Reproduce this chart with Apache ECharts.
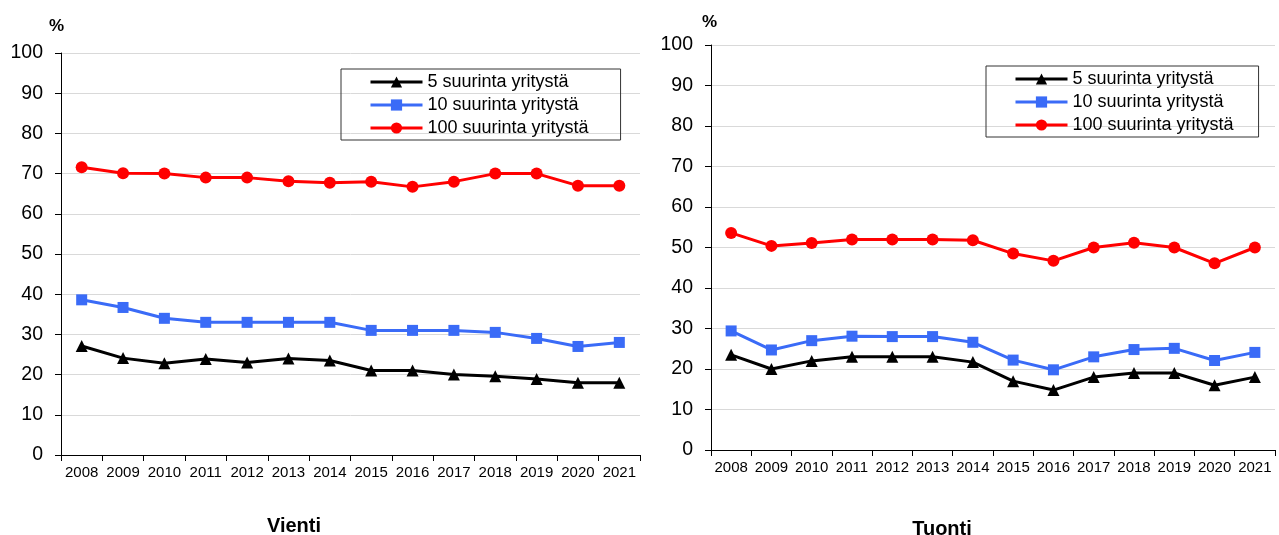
<!DOCTYPE html>
<html>
<head>
<meta charset="utf-8">
<script src="https://cdn.jsdelivr.net/npm/echarts@6/dist/echarts.min.js"></script>
<style>
  html, body { margin: 0; padding: 0; background: #fff; }
  #chart { width: 1279px; height: 535px; }
</style>
</head>
<body>
<div id="chart"></div>
<script>
// vuodet
var years = ['2008','2009','2010','2011','2012','2013','2014','2015','2016','2017','2018','2019','2020','2021'];
var seriesNames = ['5 suurinta yritystä', '10 suurinta yritystä', '100 suurinta yritystä'];

// Vienti
var vienti5 = [27.1, 24.1, 22.8, 23.9, 23, 24, 23.5, 21, 21, 20, 19.6, 18.9, 18, 18];
var vienti10 = [38.6, 36.7, 34, 33, 33, 33, 33, 31, 31, 31, 30.5, 29, 27, 28];
var vienti100 = [71.6, 70.1, 70, 69, 69, 68.1, 67.7, 68, 66.7, 68, 70, 70, 67, 67];

// Tuonti
var tuonti5 = [23.5, 20, 22, 23, 23, 23, 21.7, 17, 14.8, 18, 19, 19, 16, 18];
var tuonti10 = [29.4, 24.7, 27, 28.1, 28, 28, 26.6, 22.2, 19.8, 23, 24.8, 25.1, 22.1, 24.1];
var tuonti100 = [53.6, 50.4, 51.1, 52, 52, 52, 51.8, 48.5, 46.7, 50, 51.2, 50, 46.1, 50];

var colors = ['#000000', '#3a6bf7', '#ff0000'];
var symbols = ['triangle', 'rect', 'circle'];
var symbolSizes = [12, 11, 12];
var font = 'Liberation Sans';

var chart = echarts.init(document.getElementById('chart'));

function xAxisFor(idx) {
    return {
        type: 'category',
        gridIndex: idx,
        data: years,
        boundaryGap: true,
        axisLine: { lineStyle: { color: '#000', width: 1 } },
        axisTick: { show: true, length: 6, interval: 0, lineStyle: { color: '#000' } },
        axisLabel: { color: '#000', fontSize: 15, fontFamily: font, interval: 0, margin: 10 }
    };
}
function yAxisFor(idx) {
    return {
        type: 'value',
        gridIndex: idx,
        min: 0, max: 100, interval: 10,
        axisLine: { show: true, lineStyle: { color: '#000', width: 1 } },
        axisTick: { show: true, length: 6, lineStyle: { color: '#000' } },
        axisLabel: { color: '#000', fontSize: 19.5, fontFamily: font, margin: 18 },
        splitLine: { show: true, lineStyle: { color: '#d9d9d9', width: 1 } }
    };
}
function makeSeries(name, data, k, idx) {
    return {
        name: name,
        type: 'line',
        xAxisIndex: idx,
        yAxisIndex: idx,
        data: data,
        color: colors[k],
        symbol: symbols[k],
        symbolSize: symbolSizes[k],
        showAllSymbol: true,
        lineStyle: { width: 3, color: colors[k] },
        itemStyle: { color: colors[k] }
    };
}
function legendFor(id, left, top, padRight) {
    return {
        id: id,
        orient: 'vertical',
        left: left, top: top,
        data: seriesNames,
        borderColor: '#333',
        borderWidth: 1,
        padding: [4, padRight, 3, 28],
        itemWidth: 52,
        itemHeight: 14,
        itemGap: 5,
        lineStyle: { width: 3 },
        textStyle: { color: '#000', fontSize: 18, fontFamily: font }
    };
}

chart.setOption({
    animation: false,
    title: [
        { text: '%', left: 44, top: 13, textStyle: { fontSize: 17, fontWeight: 'bold', color: '#000', fontFamily: font } },
        { text: '%', left: 697, top: 9, textStyle: { fontSize: 17, fontWeight: 'bold', color: '#000', fontFamily: font } },
        { text: 'Vienti', left: 289, top: 511, textAlign: 'center', textStyle: { fontSize: 20, fontWeight: 'bold', color: '#000', fontFamily: font } },
        { text: 'Tuonti', left: 937, top: 514, textAlign: 'center', textStyle: { fontSize: 20, fontWeight: 'bold', color: '#000', fontFamily: font } }
    ],
    legend: [
        legendFor('l0', 341, 69, 32),
        legendFor('l1', 986, 66, 25)
    ],
    grid: [
        { left: 61, right: 639, top: 53, bottom: 80 },
        { left: 711, right: 4, top: 45, bottom: 85 }
    ],
    xAxis: [xAxisFor(0), xAxisFor(1)],
    yAxis: [yAxisFor(0), yAxisFor(1)],
    series: [
        makeSeries(seriesNames[0], vienti5, 0, 0),
        makeSeries(seriesNames[1], vienti10, 1, 0),
        makeSeries(seriesNames[2], vienti100, 2, 0),
        makeSeries(seriesNames[0], tuonti5, 0, 1),
        makeSeries(seriesNames[1], tuonti10, 1, 1),
        makeSeries(seriesNames[2], tuonti100, 2, 1)
    ]
});
</script>
</body>
</html>
